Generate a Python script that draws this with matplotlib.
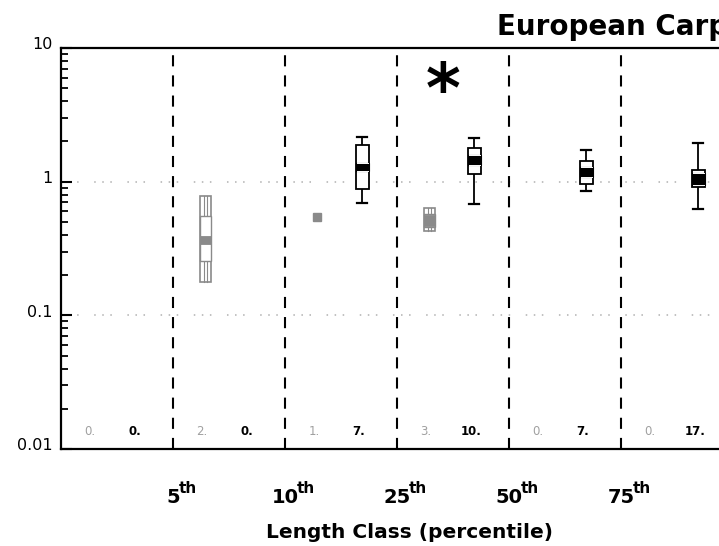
import matplotlib
matplotlib.use("Agg")
import matplotlib.pyplot as plt
from matplotlib.patches import Rectangle
from matplotlib.transforms import ScaledTranslation

plt.rcParams['font.family'] = ['DejaVu Sans']
plt.rcParams['lines.scale_dashes'] = False

# length-class boundaries (percentile labels at the dashed lines)
boundary_pos = [1, 2, 3, 4, 5]
boundary_num = ['5', '10', '25', '50', '75']

# sample counts per length class (grey = first series, black = second)
n_grey = [0, 2, 1, 3, 0, 0]
n_black = [0, 0, 7, 10, 7, 17]

# black series boxes (classes 2..5)
black_cls = [2, 3, 4, 5]
black_wlo = [0.69, 0.675, 0.85, 0.627]
black_q1 = [0.886, 1.148, 0.955, 0.91]
black_clo = [1.20, 1.325, 1.083, 0.94]
black_med = [1.29, 1.44, 1.18, 1.045]
black_chi = [1.379, 1.575, 1.287, 1.17]
black_q3 = [1.87, 1.786, 1.43, 1.22]
black_whi = [2.16, 2.12, 1.72, 1.95]

# grey series boxes (classes 1 and 3), single value in class 2
grey_cls = [1, 3]
grey_lo = [0.177, 0.43]
grey_q1 = [0.257, 0.455]
grey_clo = [0.343, 0.465]
grey_med = [0.369, 0.51]
grey_chi = [0.395, 0.56]
grey_q3 = [0.55, 0.575]
grey_hi = [0.776, 0.63]
grey_single_cls = [2]
grey_single_val = [0.543]

GREY = '#8a8a8a'
px = 1 / 100.0

fig = plt.figure(figsize=(7.19, 5.46), dpi=100)
ax = fig.add_axes([61 / 719, 97 / 546, 672 / 719, 401 / 546])
ax.set_yscale('log')
ax.set_ylim(0.01, 10)
ax.set_xlim(0, 6)

for s in ax.spines.values():
    s.set_linewidth(1.6)

# dotted reference lines
for yv in [1, 0.1]:
    ax.axhline(yv, color='#b0b0b0', lw=1.1, zorder=0,
               linestyle=(0, (1.1, 4.7, 1.1, 4.7, 1.1, 11.2)))

# class boundaries
for xb in boundary_pos:
    ax.axvline(xb, color='black', lw=1.5, zorder=1, linestyle=(0, (8, 6.5)))

bw = 0.116
cw = 0.09
off_grey, off_black = 0.29, 0.69

# black boxes
for c, wlo, q1, clo, med, chi, q3, whi in zip(black_cls, black_wlo, black_q1, black_clo,
                                              black_med, black_chi, black_q3, black_whi):
    x = c + off_black
    ax.plot([x, x], [wlo, q1], color='black', lw=1.3, zorder=3)
    ax.plot([x, x], [q3, whi], color='black', lw=1.3, zorder=3)
    ax.plot([x - cw / 2, x + cw / 2], [wlo, wlo], color='black', lw=1.6, zorder=3)
    ax.plot([x - cw / 2, x + cw / 2], [whi, whi], color='black', lw=1.6, zorder=3)
    ax.add_patch(Rectangle((x - bw / 2, q1), bw, q3 - q1, facecolor='white',
                           edgecolor='black', lw=1.3, zorder=4))
    ax.add_patch(Rectangle((x - bw / 2, clo), bw, chi - clo, facecolor='black',
                           edgecolor='black', lw=0.8, zorder=5))
    ax.plot([x - bw / 2 + 0.01, x + bw / 2 - 0.01], [clo, clo], color='white', lw=0.7, zorder=6)
    ax.plot([x - bw / 2 + 0.01, x + bw / 2 - 0.01], [chi, chi], color='white', lw=0.7, zorder=6)

# grey boxes
for c, lo, q1, clo, med, chi, q3, hi in zip(grey_cls, grey_lo, grey_q1, grey_clo,
                                            grey_med, grey_chi, grey_q3, grey_hi):
    x = c + off_grey
    gw = 0.105
    ax.add_patch(Rectangle((x - gw / 2, lo), gw, hi - lo, facecolor='white',
                           edgecolor=GREY, lw=1.2, zorder=4))
    for dx in [-gw / 6, gw / 6]:
        ax.plot([x + dx, x + dx], [lo, hi], color=GREY, lw=0.8, zorder=4)
    ax.add_patch(Rectangle((x - gw / 2, q1), gw, q3 - q1, facecolor='white',
                           edgecolor=GREY, lw=1.0, zorder=5))
    ax.add_patch(Rectangle((x - gw / 2, clo), gw, chi - clo, facecolor=GREY,
                           edgecolor=GREY, lw=0.6, zorder=6))

for c, v in zip(grey_single_cls, grey_single_val):
    ax.plot(c + off_grey, v, marker='s', ms=5.5, color=GREY, mec=GREY, zorder=5)

# sample sizes
for i, (ng, nb) in enumerate(zip(n_grey, n_black)):
    ax.text(i + 0.26, 0.0135, f'{ng}.', color='#a0a0a0', fontsize=8.5,
            ha='center', va='center', zorder=6)
    ax.text(i + 0.66, 0.0135, f'{nb}.', color='black', fontsize=8.5,
            fontweight='bold', ha='center', va='center', zorder=6)

# significance marker
ax.text(3.41, 4.64, '*', fontsize=48, fontweight='bold', ha='center', va='center')

# y axis
ax.set_yticks([0.01, 0.1, 1, 10])
ax.set_yticklabels(['0.01', '0.1', '1', '10'])
ax.tick_params(axis='y', which='major', direction='in', length=8, width=1.5,
               labelsize=11.5, pad=6)
ax.tick_params(axis='y', which='minor', direction='in', length=5, width=1.3)
for lab in ax.get_yticklabels():
    lab.set_transform(lab.get_transform() + ScaledTranslation(0, 4.5 * px, fig.dpi_scale_trans))

ax.set_xticks([])

# percentile labels
for xb, num in zip(boundary_pos, boundary_num):
    t = ax.annotate(num, xy=(xb, 0), xycoords=('data', 'axes fraction'),
                    xytext=(0, -39), textcoords='offset points', ha='center',
                    va='baseline', fontsize=14, fontweight='bold')
    ax.annotate('th', xy=(1, 1), xycoords=t, xytext=(-1, 5), textcoords='offset points',
                ha='left', va='top', fontsize=11, fontweight='bold')

fig.text(410 / 719, 1 - 538 / 546, 'Length Class (percentile)', ha='center',
         va='baseline', fontsize=14.5, fontweight='bold')

# title runs past the right edge, as in the reference
fig.text(497 / 719, 1 - 35 / 546, 'European Carp', ha='left', va='baseline',
         fontsize=20, fontweight='bold')

fig.savefig('out.png', dpi=100)
